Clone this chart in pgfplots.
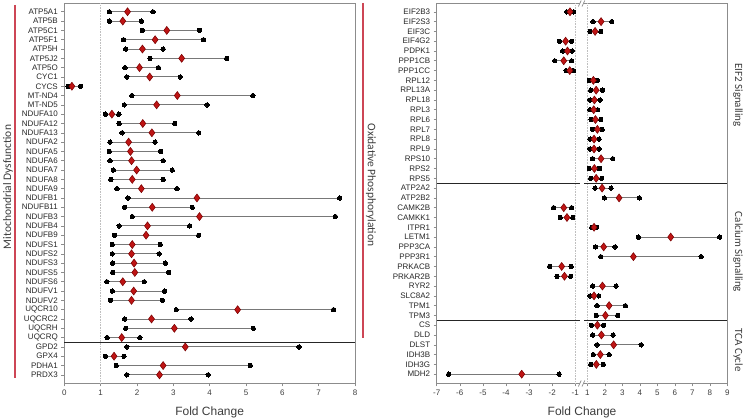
\documentclass[border=0pt]{standalone}
\usepackage{pgfplots}
\pgfplotsset{compat=1.18}
\usepackage{pgfplotstable}
\usepackage{fontspec}
\setmainfont{Liberation Sans}
\newfontfamily\calib{Carlito}
\definecolor{dred}{RGB}{190,20,20}
\definecolor{dredge}{RGB}{120,0,0}
\definecolor{barc}{RGB}{120,120,120}
\definecolor{frame}{RGB}{140,140,140}
\definecolor{grpline}{RGB}{205,70,85}
\definecolor{txt}{RGB}{60,60,60}

\pgfplotstableread{
k name lo mid hi
0 ATP5A1 1.24 1.74 2.44
1 ATP5B 1.24 1.61 2.12
2 ATP5C1 2.15 2.82 3.72
3 ATP5F1 1.63 2.50 3.83
4 ATP5H 1.69 2.15 2.72
5 ATP5J2 2.36 3.23 4.47
6 ATP5O 1.67 2.07 2.59
7 CYC1 1.72 2.35 3.19
8 CYCS 0.10 0.21 0.45
9 MT-ND4 1.86 3.11 5.19
10 MT-ND5 1.65 2.54 3.93
11 NDUFA10 1.13 1.31 1.50
12 NDUFA12 1.51 2.16 3.04
13 NDUFA13 1.59 2.41 3.70
14 NDUFA2 1.26 1.77 2.50
15 NDUFA5 1.24 1.82 2.65
16 NDUFA6 1.26 1.85 2.72
17 NDUFA7 1.35 1.99 2.97
18 NDUFA8 1.28 1.87 2.72
19 NDUFA9 1.45 2.12 3.10
20 NDUFB1 1.75 3.65 7.58
21 NDUFB11 1.66 2.42 3.52
22 NDUFB3 1.87 3.72 7.46
23 NDUFB4 1.51 2.29 3.45
24 NDUFB9 1.38 2.25 3.70
25 NDUFS1 1.32 1.87 2.64
26 NDUFS2 1.32 1.85 2.61
27 NDUFS3 1.33 1.92 2.78
28 NDUFS5 1.33 1.94 2.87
29 NDUFS6 1.17 1.61 2.20
30 NDUFV1 1.32 1.91 2.76
31 NDUFV2 1.27 1.85 2.70
32 UQCR10 3.08 4.77 7.41
33 UQCRC2 1.66 2.40 3.49
34 UQCRH 1.69 3.03 5.20
35 UQCRQ 1.18 1.58 2.08
36 GPD2 1.72 3.33 6.46
37 GPX4 1.13 1.37 1.64
38 PDHA1 1.43 2.72 5.12
39 PRDX3 1.72 2.62 3.96
}\lefttab

\pgfplotstableread{
k name lo mid hi
0 EIF2B3 -1.37 -1.23 -1.07
1 EIF2S3 1.32 1.78 2.39
2 EIF3C 1.15 1.44 1.76
3 EIF4G2 -1.69 -1.42 -1.16
4 PDPK1 -1.55 -1.34 -1.14
5 PPP1CB -1.89 -1.50 -1.16
6 PPP1CC -1.40 -1.24 -1.08
7 RPL12 1.11 1.34 1.57
8 RPL13A 1.19 1.50 1.86
9 RPL18 1.15 1.40 1.72
10 RPL3 1.15 1.36 1.59
11 RPL6 1.21 1.46 1.76
12 RPL7 1.29 1.57 1.84
13 RPL8 1.15 1.38 1.67
14 RPL9 1.15 1.38 1.67
15 RPS10 1.29 1.78 2.45
16 RPS2 1.11 1.40 1.69
17 RPS5 1.19 1.50 1.82
18 ATP2A2 1.44 1.84 2.35
19 ATP2B2 1.97 2.81 3.97
20 CAMK2B -1.94 -1.50 -1.16
21 CAMKK1 -1.65 -1.36 -1.11
22 ITPR1 1.25 1.38 1.53
23 LETM1 3.91 5.76 8.56
24 PPP3CA 1.46 1.93 2.58
25 PPP3R1 1.76 3.63 7.50
26 PRKACB -2.11 -1.59 -1.18
27 PRKAR2B -1.79 -1.47 -1.20
28 RYR2 1.30 1.86 2.64
29 SLC8A2 1.15 1.38 1.65
30 TPM1 1.55 2.24 3.17
31 TPM3 1.51 2.03 2.73
32 CS 1.23 1.57 1.93
33 DLD 1.30 1.80 2.47
34 DLST 1.55 2.50 4.07
35 IDH3B 1.34 1.74 2.24
36 IDH3G 1.19 1.51 1.91
37 MDH2 -6.48 -3.32 -1.70
}\righttab

\pgfplotsset{
  panel/.style={
    scale only axis, anchor=south west, height=380pt, width=290.7pt,
    y dir=reverse,
    axis line style={draw=frame, line width=1pt},
    tick align=outside, major tick length=3pt,
    tick style={draw=frame, line width=0.6pt},
    xtick pos=bottom, ytick pos=left,
    /pgf/number format/assume math mode=true,
    ticklabel style={font=\fontsize{8}{9}\selectfont, text=txt},
    yticklabel style={text=black!85},
    xlabel style={font=\fontsize{12}{14}\selectfont, text=txt, at={(axis description cs:0.5,0)}, anchor=center, yshift=-28.5pt},
    xlabel={Fold Change},
    clip=false,
  },
  ebar/.style={only marks, mark=none,
    error bars/.cd, x dir=both, x explicit,
    error bar style={line width=0.9pt, draw=barc},
    error mark=*, error mark options={draw=black, fill=black, mark size=2.2pt, solid, line width=0pt}},
  dmd/.style={only marks, mark=diamond*, mark size=4pt,
    mark options={fill=dred, draw=dredge, line width=0.5pt}},
}

\begin{document}
\begin{tikzpicture}
\useasboundingbox (0,0) rectangle (745pt,419pt);

% left panel
\begin{axis}[panel, at={(64.3pt,35.5pt)},
  xmin=0, xmax=8, xtick={0,1,...,8},
  ymin=-0.89, ymax=39.93,
  ytick={0,1,...,39}, yticklabels from table={\lefttab}{name}]
  \draw[densely dotted, gray!50, line width=0.6pt] (axis cs:1,-0.89) -- (axis cs:1,39.93);
  \addplot[ebar] table[x=mid, y=k,
    x error plus expr={\thisrow{hi}-\thisrow{mid}},
    x error minus expr={\thisrow{mid}-\thisrow{lo}}] {\lefttab};
  \addplot[dmd] table[x=mid, y=k] {\lefttab};
  \draw[black!85, line width=1.2pt] (axis cs:0,35.5) -- (axis cs:8,35.5);
\end{axis}

% right panel
\begin{axis}[panel, at={(436.7pt,35.5pt)},
  xmin=0, xmax=290.7,
  xtick={0,23.1,46.2,69.3,92.4,115.5,138.6,150.7,168.2,185.7,203.2,220.7,238.2,255.7,273.2,290.7},
  xticklabels={-7,-6,-5,-4,-3,-2,-1,1,2,3,4,5,6,7,8,9},
  ymin=-0.85, ymax=37.95,
  ytick={0,1,...,37}, yticklabels from table={\righttab}{name}]
  \draw[densely dotted, gray!50, line width=0.6pt] (axis cs:138.6,-0.85) -- (axis cs:138.6,37.95);
  \draw[densely dotted, gray!50, line width=0.6pt] (axis cs:150.7,-0.85) -- (axis cs:150.7,37.95);
  \addplot[ebar] table[
    x expr={ifthenelse(\thisrow{mid}<0,(\thisrow{mid}+7)*23.1,150.7+(\thisrow{mid}-1)*17.5)},
    y=k,
    x error plus expr={(\thisrow{hi}-\thisrow{mid})*ifthenelse(\thisrow{mid}<0,23.1,17.5)},
    x error minus expr={(\thisrow{mid}-\thisrow{lo})*ifthenelse(\thisrow{mid}<0,23.1,17.5)}] {\righttab};
  \addplot[dmd] table[
    x expr={ifthenelse(\thisrow{mid}<0,(\thisrow{mid}+7)*23.1,150.7+(\thisrow{mid}-1)*17.5)},
    y=k] {\righttab};
  \draw[black!85, line width=1.2pt] (axis cs:0,17.5) -- (axis cs:143.3,17.5);
  \draw[black!85, line width=1.2pt] (axis cs:147.3,17.5) -- (axis cs:290.7,17.5);
  \draw[black!85, line width=1.2pt] (axis cs:0,31.5) -- (axis cs:143.3,31.5);
  \draw[black!85, line width=1.2pt] (axis cs:147.3,31.5) -- (axis cs:290.7,31.5);
  \coordinate (bt) at (axis cs:145.5,-0.85);
  \coordinate (bb) at (axis cs:145.5,37.95);
\end{axis}

% axis breaks
\foreach \c in {bt,bb}{
  \fill[white] (\c) ++(-2.2pt,-1.5pt) rectangle ++(4.4pt,3pt);
  \draw[frame, line width=0.7pt] (\c) ++(-3.8pt,-3pt) -- ++(2.8pt,6pt);
  \draw[frame, line width=0.7pt] (\c) ++(-0.2pt,-3pt) -- ++(2.8pt,6pt);
}

% group lines and labels
\draw[grpline, line width=1.1pt] (15pt,414pt) -- (15pt,41pt);
\draw[grpline, line width=1.1pt] (363pt,416pt) -- (363pt,81pt);
\node[rotate=90, text=txt, font=\calib\fontsize{11.5}{13}\selectfont] at (8pt,232pt) {Mitochondrial Dysfunction};
\node[rotate=-90, text=txt, font=\calib\fontsize{11.5}{13}\selectfont] at (371pt,234pt) {Oxidative Phosphorylation};
\node[rotate=-90, text=txt, font=\calib\fontsize{11}{13}\selectfont] at (738pt,324pt) {EIF2 Signalling};
\node[rotate=-90, text=txt, font=\calib\fontsize{11}{13}\selectfont] at (738pt,167pt) {Calcium Signalling};
\node[rotate=-90, text=txt, font=\calib\fontsize{11}{13}\selectfont] at (738pt,69pt) {TCA Cycle};
\end{tikzpicture}
\end{document}
